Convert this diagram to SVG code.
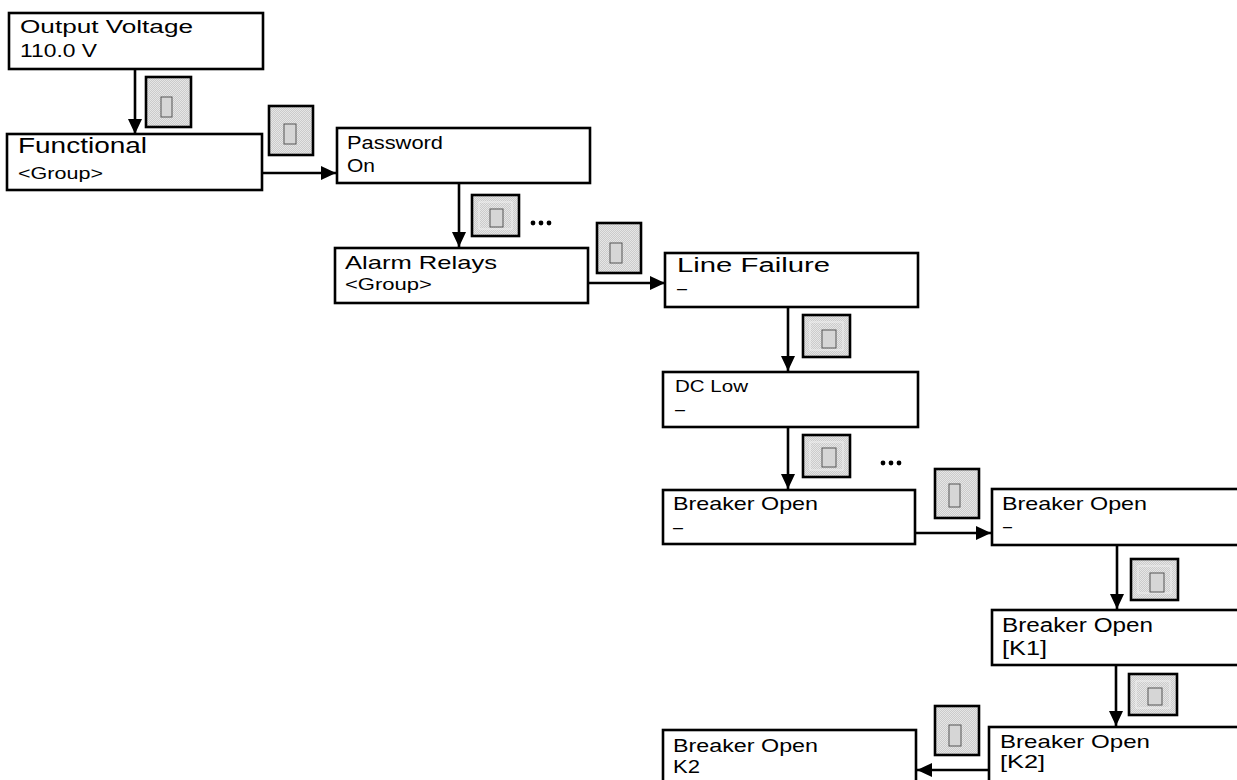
<svg xmlns="http://www.w3.org/2000/svg" width="1237" height="780" viewBox="0 0 1237 780">
  <defs>
    <style>
      .box { fill: #ffffff; stroke: #000000; stroke-width: 2.6; }
      .t { font-family: "Liberation Sans", Arial, sans-serif; fill: #000000; }
      .conn { fill: none; stroke: #000000; stroke-width: 2.6; }
      .btn { fill: url(#stipple); stroke: #000000; stroke-width: 2.6; }
      .key { fill: #d6d6d6; stroke: #555555; stroke-width: 1; }
      .grid { fill: none; stroke: #efefef; stroke-width: 1; }
      .dots { fill: #000000; }
    </style>
    <pattern id="stipple" x="0" y="0" width="2" height="2" patternUnits="userSpaceOnUse">
      <rect width="2" height="2" fill="#cbcbcb"/>
      <rect x="0" y="0" width="1" height="1" fill="#e6e6e6"/>
      <rect x="1" y="1" width="1" height="1" fill="#e6e6e6"/>
    </pattern>
    <marker id="arrow" viewBox="0 0 15 14" refX="15" refY="7" markerWidth="15" markerHeight="14" markerUnits="userSpaceOnUse" orient="auto">
      <path d="M0,0 L15,7 L0,14 Z" fill="#000000"/>
    </marker>
  </defs>

  <g id="connectors">
    <line class="conn" x1="135" y1="69" x2="135" y2="134" marker-end="url(#arrow)"/>
    <line class="conn" x1="262" y1="173" x2="336" y2="173" marker-end="url(#arrow)"/>
    <line class="conn" x1="459" y1="183" x2="459" y2="247" marker-end="url(#arrow)"/>
    <line class="conn" x1="588" y1="283" x2="665" y2="283" marker-end="url(#arrow)"/>
    <line class="conn" x1="788" y1="307" x2="788" y2="371" marker-end="url(#arrow)"/>
    <line class="conn" x1="788" y1="425" x2="788" y2="489" marker-end="url(#arrow)"/>
    <line class="conn" x1="915" y1="533" x2="991" y2="533" marker-end="url(#arrow)"/>
    <line class="conn" x1="1117" y1="545" x2="1117" y2="609" marker-end="url(#arrow)"/>
    <line class="conn" x1="1116" y1="662" x2="1116" y2="726" marker-end="url(#arrow)"/>
    <line class="conn" x1="989" y1="770" x2="917" y2="770" marker-end="url(#arrow)"/>
  </g>

  <g id="node-output-voltage">
    <rect class="box" x="9" y="13" width="254" height="56"/>
    <text class="t" x="20" y="33" font-size="17.5" textLength="173" lengthAdjust="spacingAndGlyphs">Output Voltage</text>
    <text class="t" x="20" y="57" font-size="17.5" textLength="77" lengthAdjust="spacingAndGlyphs">110.0 V</text>
  </g>

  <g id="node-functional">
    <rect class="box" x="7" y="134" width="255" height="56"/>
    <text class="t" x="18" y="153" font-size="22" textLength="129" lengthAdjust="spacingAndGlyphs">Functional</text>
    <text class="t" x="18" y="179" font-size="16.5" textLength="85" lengthAdjust="spacingAndGlyphs">&lt;Group&gt;</text>
  </g>

  <g id="node-password">
    <rect class="box" x="337" y="128" width="253" height="55"/>
    <text class="t" x="347" y="149" font-size="17.5" textLength="96" lengthAdjust="spacingAndGlyphs">Password</text>
    <text class="t" x="347" y="172" font-size="17.5" textLength="28" lengthAdjust="spacingAndGlyphs">On</text>
  </g>

  <g id="node-alarm-relays">
    <rect class="box" x="335" y="248" width="253" height="55"/>
    <text class="t" x="345" y="269" font-size="18.6" textLength="152" lengthAdjust="spacingAndGlyphs">Alarm Relays</text>
    <text class="t" x="345" y="290" font-size="16.5" textLength="87" lengthAdjust="spacingAndGlyphs">&lt;Group&gt;</text>
  </g>

  <g id="node-line-failure">
    <rect class="box" x="665" y="253" width="253" height="54"/>
    <text class="t" x="677" y="272" font-size="19.5" textLength="153" lengthAdjust="spacingAndGlyphs">Line Failure</text>
    <text class="t" x="677" y="294" font-size="17" textLength="10" lengthAdjust="spacingAndGlyphs">–</text>
  </g>

  <g id="node-dc-low">
    <rect class="box" x="663" y="372" width="255" height="55"/>
    <text class="t" x="675" y="392" font-size="16.3" textLength="73" lengthAdjust="spacingAndGlyphs">DC Low</text>
    <text class="t" x="675" y="415" font-size="17" textLength="10" lengthAdjust="spacingAndGlyphs">–</text>
  </g>

  <g id="node-breaker-open-1">
    <rect class="box" x="663" y="490" width="252" height="54"/>
    <text class="t" x="673" y="510" font-size="18.6" textLength="145" lengthAdjust="spacingAndGlyphs">Breaker Open</text>
    <text class="t" x="673" y="533" font-size="17" textLength="10" lengthAdjust="spacingAndGlyphs">–</text>
  </g>

  <g id="node-breaker-open-2">
    <rect class="box" x="992" y="489" width="256" height="56"/>
    <text class="t" x="1002" y="510" font-size="18.6" textLength="145" lengthAdjust="spacingAndGlyphs">Breaker Open</text>
    <text class="t" x="1003" y="532" font-size="17" textLength="9" lengthAdjust="spacingAndGlyphs">–</text>
  </g>

  <g id="node-breaker-open-k1">
    <rect class="box" x="992" y="610" width="256" height="55"/>
    <text class="t" x="1002" y="632" font-size="19.5" textLength="151" lengthAdjust="spacingAndGlyphs">Breaker Open</text>
    <text class="t" x="1002" y="655" font-size="19.5" textLength="45" lengthAdjust="spacingAndGlyphs">[K1]</text>
  </g>

  <g id="node-breaker-open-k2-bracket">
    <rect class="box" x="989" y="727" width="259" height="60"/>
    <text class="t" x="1000" y="748" font-size="19" textLength="150" lengthAdjust="spacingAndGlyphs">Breaker Open</text>
    <text class="t" x="1000" y="768" font-size="19" textLength="45" lengthAdjust="spacingAndGlyphs">[K2]</text>
  </g>

  <g id="node-breaker-open-k2">
    <rect class="box" x="663" y="730" width="253" height="60"/>
    <text class="t" x="673" y="752" font-size="18" textLength="145" lengthAdjust="spacingAndGlyphs">Breaker Open</text>
    <text class="t" x="673" y="773" font-size="18" textLength="27" lengthAdjust="spacingAndGlyphs">K2</text>
  </g>

  <g id="buttons">
    <g id="btn-1">
      <rect class="btn" x="146" y="77" width="45" height="50"/>
      <rect class="key" x="161" y="97" width="11" height="20"/>
    </g>
    <g id="btn-2">
      <rect class="btn" x="269" y="106" width="44" height="49"/>
      <rect class="key" x="284" y="124" width="12" height="20"/>
    </g>
    <g id="btn-3">
      <rect class="btn" x="472" y="195" width="47" height="41"/>
      <rect class="grid" x="479" y="202" width="33" height="27"/>
      <rect class="key" x="490" y="209" width="13" height="18"/>
      <g class="dots"><circle cx="533" cy="223" r="2.4"/><circle cx="541" cy="223" r="2.4"/><circle cx="549" cy="223" r="2.4"/></g>
    </g>
    <g id="btn-4">
      <rect class="btn" x="597" y="223" width="44" height="50"/>
      <rect class="key" x="610" y="243" width="12" height="20"/>
    </g>
    <g id="btn-5">
      <rect class="btn" x="803" y="315" width="47" height="42"/>
      <rect class="grid" x="810" y="322" width="33" height="28"/>
      <rect class="key" x="822" y="330" width="14" height="18"/>
    </g>
    <g id="btn-6">
      <rect class="btn" x="803" y="435" width="47" height="42"/>
      <rect class="grid" x="810" y="442" width="33" height="28"/>
      <rect class="key" x="822" y="448" width="14" height="19"/>
      <g class="dots"><circle cx="883" cy="463" r="2.4"/><circle cx="891" cy="463" r="2.4"/><circle cx="899" cy="463" r="2.4"/></g>
    </g>
    <g id="btn-7">
      <rect class="btn" x="935" y="469" width="44" height="49"/>
      <rect class="key" x="949" y="484" width="11" height="23"/>
    </g>
    <g id="btn-8">
      <rect class="btn" x="1131" y="559" width="47" height="41"/>
      <rect class="grid" x="1138" y="566" width="33" height="27"/>
      <rect class="key" x="1150" y="573" width="14" height="19"/>
    </g>
    <g id="btn-9">
      <rect class="btn" x="1129" y="674" width="48" height="41"/>
      <rect class="grid" x="1136" y="681" width="34" height="27"/>
      <rect class="key" x="1148" y="688" width="14" height="17"/>
    </g>
    <g id="btn-10">
      <rect class="btn" x="935" y="706" width="44" height="49"/>
      <rect class="key" x="949" y="725" width="12" height="21"/>
    </g>
  </g>
</svg>
